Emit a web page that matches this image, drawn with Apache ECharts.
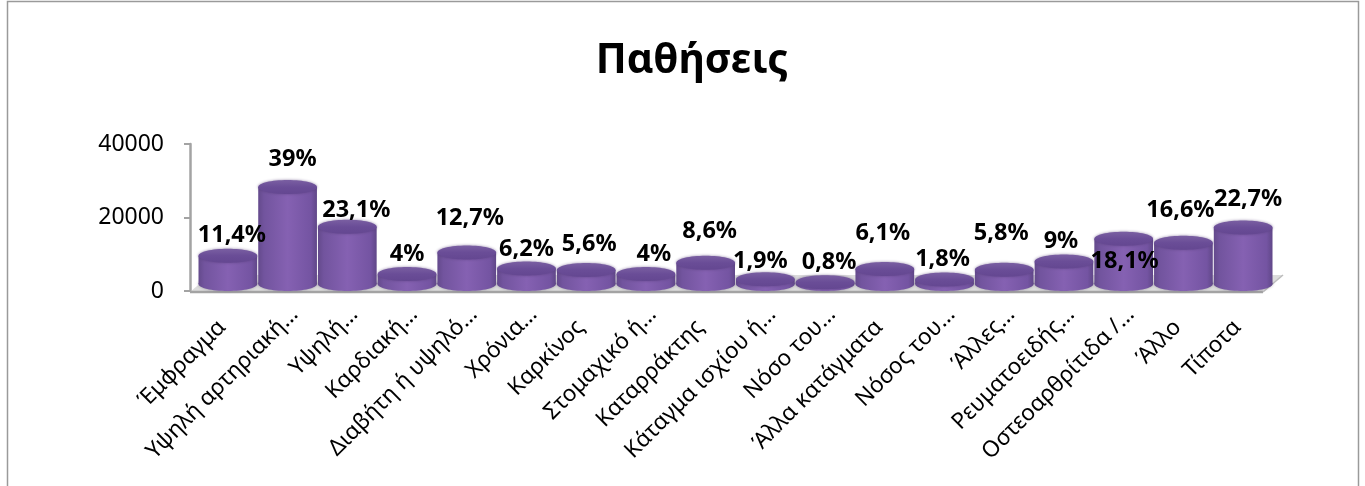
<!DOCTYPE html>
<html>
<head>
<meta charset="utf-8">
<style>html,body{margin:0;padding:0;background:#fff}#c{width:1365px;height:486px}</style>
<script src="https://cdn.jsdelivr.net/npm/echarts@6/dist/echarts.min.js"></script>
</head>
<body>
<div id="c"></div>
<script>
const categories = ['Έμφραγμα','Υψηλή αρτηριακή…','Υψηλή…','Καρδιακή…','Διαβήτη ή υψηλό…','Χρόνια…','Καρκίνος','Στομαχικό ή…','Καταρράκτης','Κάταγμα ισχίου ή…','Νόσο του…','Άλλα κατάγματα','Νόσος του…','Άλλες…','Ρευματοειδής…','Οστεοαρθρίτιδα /…','Άλλο','Τίποτα'];
const values = [7700,26400,15600,2700,8600,4200,3800,2700,5800,1300,500,4100,1200,3900,6100,12300,11200,15400];
const percentLabels = ['11,4%','39%','23,1%','4%','12,7%','6,2%','5,6%','4%','8,6%','1,9%','0,8%','6,1%','1,8%','5,8%','9%','18,1%','16,6%','22,7%'];
const yTicks = [0,20000,40000];
// label placement relative to the top of each bar (px)
const labelLift = [20,28,16,20,34,19,26,20,31,18,20,36,20,36,20,-23,33,28];
const labelShift = [4,5,9,0,3,0,3,8,4,-5,4,-2,-2,-3,-3,1,-3,5];

const FONT = '"Noto Sans","Open Sans",sans-serif';
const baseLift = 7, ry = 7, skewX = 7;

function sideFill(){
  return new echarts.graphic.LinearGradient(0,0,1,0,[
    {offset:0,color:'#644a8c'},{offset:.1,color:'#72549e'},{offset:.5,color:'#8561b2'},
    {offset:.9,color:'#7454a2'},{offset:1,color:'#604788'}]);
}
function topFill(){
  return new echarts.graphic.LinearGradient(0,0,0,1,[
    {offset:0,color:'#7a5fa2'},{offset:.5,color:'#6a4d97'},{offset:1,color:'#644791'}]);
}
function renderBar(params, api){
  const i = api.value(0);
  const top = api.coord([i, api.value(1)]);
  const zero = api.coord([i, 0]);
  const w = api.size([1,0])[0];
  const rx = w/2 - .5;
  const cx = top[0]-skewX, yTop = top[1]-baseLift, yBase = zero[1]-baseLift;
  return {type:'group', children:[
    {type:'ellipse', shape:{cx:cx, cy:yBase, rx:rx, ry:ry},
      style:{fill:sideFill(), shadowBlur:3, shadowColor:'rgba(90,80,110,.5)'}},
    {type:'rect', shape:{x:cx-rx, y:yTop, width:rx*2, height:yBase-yTop}, style:{fill:sideFill()}},
    {type:'ellipse', shape:{cx:cx, cy:yTop, rx:rx, ry:ry}, style:{fill:topFill(), shadowBlur:3, shadowColor:'rgba(80,55,115,.6)'}}
  ]};
}
function renderLabel(params, api){
  const i = api.value(0);
  const top = api.coord([i, api.value(1)]);
  return {type:'text', style:{
    text: percentLabels[i], x: top[0]-skewX+labelShift[i], y: top[1]-baseLift-labelLift[i],
    align:'center', verticalAlign:'middle', fill:'#000', font:'bold 23.5px '+FONT
  }};
}
function renderFloor(params, api){
  const cs = params.coordSys;
  const y = api.coord([0,0])[1];
  const l = cs.x-8-skewX, r = cs.x+cs.width-10-skewX, d = 20, h = 16;
  return {type:'group', silent:true, children:[
    {type:'polygon', shape:{points:[[l,y+1],[r,y+1],[r+d,y-h],[l+d,y-h]]}, style:{fill:'#dcdcdc'}},
    {type:'line', shape:{x1:l,y1:y+1,x2:r,y2:y+1}, style:{stroke:'#a3a3a3', lineWidth:2.5}},
    {type:'line', shape:{x1:r,y1:y+1,x2:r+d,y2:y-h}, style:{stroke:'#bdbdbd', lineWidth:1.5}}
  ]};
}
const data = values.map((v,i)=>[i,v]);
// labels without an ellipsis sit further back along their slant
const categoryItems = categories.map(name => name.endsWith('…') ? name
  : {value:name, textStyle:{padding:[0,18,0,0]}});
const chart = echarts.init(document.getElementById('c'), null, {renderer:'canvas'});
chart.setOption({
  animation:false,
  backgroundColor:'#fff',
  title:{text:'Παθήσεις', left:687, top:36, textAlign:'center',
    textStyle:{fontFamily:FONT, fontWeight:'bold', fontSize:41, color:'#000'}},
  graphic:[{type:'rect', shape:{x:7.5,y:1.5,width:1351,height:600}, style:{fill:'none', stroke:'#9a9a9a', lineWidth:1.5}, silent:true}],
  grid:{left:198+skewX, width:1075, top:144, height:147},
  xAxis:{type:'category', data:categoryItems, boundaryGap:true,
    axisLine:{show:false}, axisTick:{show:false},
    axisLabel:{interval:0, rotate:45, margin:20, fontFamily:FONT, fontSize:22.5, color:'#000', hideOverlap:false}},
  yAxis:{type:'value', min:yTicks[0], max:yTicks[2], interval:yTicks[1]-yTicks[0], offset:8+skewX,
    axisLine:{show:true, lineStyle:{color:'#a3a3a3', width:2.5}},
    axisTick:{show:true, length:6, lineStyle:{color:'#a3a3a3', width:2}},
    splitLine:{show:false},
    axisLabel:{margin:26, fontFamily:FONT, fontSize:23, color:'#000', formatter:v=>String(v)}},
  series:[
    {type:'custom', data:[[0,0]], renderItem:renderFloor, z:1, clip:false, silent:true},
    {type:'custom', name:'Παθήσεις', data:data, renderItem:renderBar, z:2, clip:false, encode:{x:0,y:1}},
    {type:'custom', data:data, renderItem:renderLabel, z:3, clip:false, encode:{x:0,y:1}}
  ]
});
</script>
</body>
</html>
